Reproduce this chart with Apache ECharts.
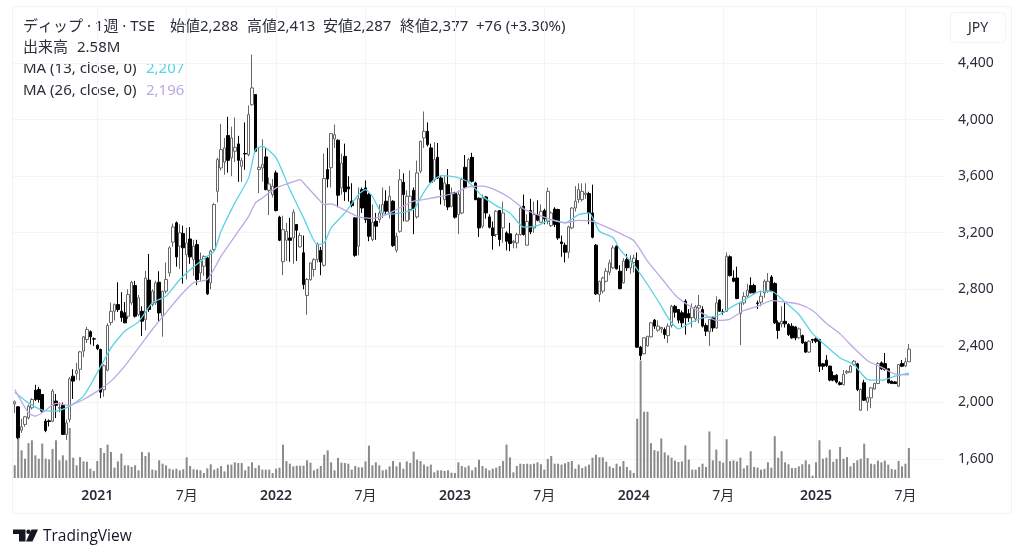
<!DOCTYPE html>
<html>
<head>
<meta charset="utf-8">
<title>ディップ 週足</title>
<script src="https://cdn.jsdelivr.net/npm/echarts@6/dist/echarts.min.js"></script>
<style>
  html, body { margin: 0; padding: 0; background: #fff; }
  #chart { width: 1024px; height: 558px; }
</style>
</head>
<body>
<div id="chart"></div>
<script>
var opens = [
  1990,1969,1804,1845,1892,1962,2087,2092,2056,1868,
  1870,1868,2010,1960,1980,1774,1880,2186,2205,2235,
  2363,2445,2500,2450,2405,2375,2090,2228,2565,2645,
  2692,2645,2634,2610,2704,2827,2622,2645,2586,2865,
  2692,2704,2850,2610,2787,2916,3133,3270,3105,3194,
  3045,3156,3010,3116,2916,2963,3022,2845,3081,3493,
  3658,3700,3887,3729,3776,3828,3670,3760,3752,4105,
  4177,3647,3658,3736,3500,3470,3623,3310,2995,3147,
  3163,3163,3258,3100,3058,2756,2869,2940,3010,3074,
  2970,3647,3660,3863,3854,3517,3740,3524,3423,3305,
  3105,3505,3517,3470,3152,3281,3293,3340,3423,3340,
  3423,3076,3210,3557,3283,3364,3500,3312,3635,3870,
  3917,3800,3575,3733,3587,3434,3540,3387,3482,3328,
  3340,3663,3564,3733,3552,3444,3246,3453,3312,3234,
  3187,3357,3234,3199,3192,3130,3128,3187,3387,3112,
  3357,3234,3328,3274,3357,3281,3250,3368,3364,3135,
  3112,3062,3234,3375,3434,3434,3470,3477,3340,3112,
  2763,2787,2857,2921,2952,3105,2928,2846,3010,2952,
  2990,3003,2391,2344,2400,2464,2582,2511,2520,2516,
  2473,2544,2680,2657,2634,2716,2628,2600,2591,2668,
  2657,2544,2500,2598,2527,2723,2640,2645,3030,2880,
  2880,2628,2704,2752,2827,2827,2704,2709,2775,2787,
  2887,2841,2563,2555,2574,2551,2539,2534,2457,2473,
  2426,2356,2445,2450,2445,2273,2299,2257,2190,2193,
  2139,2127,2210,2214,2268,2273,1945,2139,2002,2033,
  2096,2134,2280,2275,2238,2150,2145,2115,2275,2258,
  2288
];
var highs = [
  2015,1975,1885,1905,1985,2030,2125,2110,2060,1885,
  1880,2095,2060,2000,2000,1880,2180,2235,2280,2365,
  2470,2535,2510,2460,2410,2380,2270,2560,2706,2700,
  2850,2780,2710,2800,2860,2860,2760,2680,2930,3050,
  2800,2860,2928,2790,2990,3105,3265,3280,3260,3250,
  3234,3240,3150,3150,3060,3040,3030,3080,3410,3730,
  3970,3870,4020,3950,4015,3885,3730,3980,4100,4460,
  4180,3805,3860,3800,3590,3580,3640,3320,3320,3270,
  3305,3365,3260,3200,3180,2880,2990,3020,3130,3100,
  3760,3800,3905,3965,3860,3760,3830,3600,3550,3310,
  3520,3520,3570,3480,3400,3340,3400,3520,3500,3530,
  3430,3200,3650,3620,3500,3640,3520,3710,3850,4057,
  3980,3830,3840,3835,3600,3600,3650,3520,3490,3500,
  3590,3750,3730,3765,3560,3450,3470,3460,3330,3280,
  3360,3360,3420,3210,3270,3150,3200,3385,3470,3330,
  3440,3420,3430,3400,3370,3520,3350,3380,3370,3180,
  3130,3250,3380,3530,3550,3550,3550,3490,3540,3120,
  2860,2890,2950,3010,3110,3110,2970,3020,3050,3040,
  3045,3060,2400,2460,2470,2570,2590,2580,2535,2530,
  2560,2690,2690,2660,2650,2730,2660,2700,2690,2760,
  2680,2560,2590,2610,2750,2730,2660,3060,3040,2935,
  2960,2710,2780,2840,2885,2840,2720,2790,2870,2915,
  2900,2850,2580,2680,2705,2560,2560,2540,2530,2480,
  2430,2440,2450,2460,2450,2280,2335,2260,2220,2200,
  2150,2230,2230,2265,2300,2280,2100,2160,2040,2110,
  2140,2285,2290,2350,2240,2155,2150,2270,2300,2315,
  2413
];
var lows = [
  1925,1740,1785,1828,1880,1950,2010,2000,1930,1790,
  1830,1860,1890,1930,1770,1735,1860,2025,2160,2155,
  2320,2420,2410,2400,2370,2030,2040,2220,2545,2580,
  2640,2570,2560,2590,2690,2600,2610,2470,2510,2640,
  2680,2690,2570,2465,2770,2890,3100,2960,2945,2840,
  2870,2980,2895,2830,2860,2895,2760,2800,3070,3415,
  3640,3610,3625,3600,3700,3560,3560,3645,3740,4100,
  3770,3480,3560,3500,3325,3450,3350,3140,2900,3000,
  2995,2980,3000,3095,2800,2620,2860,2890,2990,2900,
  2960,3520,3520,3800,3380,3470,3425,3420,3380,3030,
  3040,3340,3270,3140,3140,3150,3270,3305,3330,3300,
  3100,3060,3200,3280,3280,3290,3190,3300,3620,3800,
  3810,3550,3560,3580,3400,3390,3360,3380,3300,3190,
  3330,3510,3550,3555,3430,3170,3230,3300,3230,3080,
  3170,3105,3130,3075,3070,3090,3090,3180,3180,3110,
  3190,3200,3280,3270,3260,3260,3240,3240,3150,3030,
  2990,3020,3225,3350,3410,3420,3440,3260,3160,2760,
  2710,2770,2850,2900,2945,2940,2800,2840,2930,2910,
  2920,2385,2300,2340,2395,2460,2520,2500,2490,2450,
  2420,2530,2600,2560,2530,2480,2570,2530,2570,2560,
  2530,2470,2400,2500,2520,2640,2620,2640,2890,2850,
  2730,2405,2690,2740,2770,2760,2660,2680,2740,2775,
  2780,2555,2450,2530,2530,2470,2450,2440,2450,2415,
  2350,2350,2420,2420,2215,2230,2250,2150,2150,2135,
  2120,2120,2200,2210,2260,2080,1940,2010,1940,1960,
  2090,2130,2230,2225,2135,2130,2130,2110,2250,2250,
  2287
];
var closes = [
  2005,1750,1828,1899,1974,2021,2021,2021,1939,1802,
  1865,2080,1980,1965,1774,1856,2167,2151,2225,2358,
  2464,2516,2464,2448,2380,2073,2260,2544,2645,2692,
  2657,2600,2563,2763,2850,2610,2740,2575,2880,2657,
  2786,2845,2633,2786,2870,3093,3241,3029,3200,3093,
  3128,3029,3105,2869,3010,3033,2768,3070,3399,3717,
  3788,3800,3712,3870,3804,3712,3710,3757,4035,4224,
  3776,3663,3682,3505,3545,3530,3357,3147,3222,3210,
  3147,3345,3218,3180,2834,2869,2987,3010,3116,2994,
  3583,3580,3900,3893,3465,3693,3490,3510,3392,3040,
  3441,3375,3293,3175,3274,3246,3340,3400,3352,3458,
  3109,3175,3575,3470,3458,3458,3371,3623,3847,3917,
  3823,3557,3717,3587,3505,3552,3382,3482,3310,3470,
  3576,3524,3717,3564,3434,3234,3446,3340,3239,3180,
  3352,3152,3340,3140,3124,3140,3187,3375,3187,3280,
  3206,3328,3288,3352,3298,3493,3340,3258,3163,3124,
  3062,3241,3375,3423,3505,3493,3480,3340,3168,2768,
  2857,2880,2928,2987,3093,2945,2805,3000,2952,3000,
  3020,2391,2332,2457,2468,2563,2540,2540,2530,2480,
  2540,2680,2638,2582,2563,2598,2598,2670,2676,2686,
  2540,2504,2586,2527,2704,2645,2640,3034,2897,2857,
  2735,2704,2750,2794,2775,2775,2700,2751,2857,2857,
  2787,2563,2509,2574,2556,2480,2457,2457,2520,2421,
  2356,2433,2440,2433,2256,2256,2261,2158,2158,2144,
  2127,2198,2220,2257,2292,2092,2092,2016,2033,2103,
  2134,2275,2238,2233,2139,2134,2134,2268,2256,2288,
  2377
];
// 出来高 (百万株)
var volumes = [
  1.09,3.39,2.38,1.66,3.0,3.24,1.95,1.66,2.96,1.66,
  1.6,2.5,3.24,1.52,1.95,1.52,4.3,1.75,1.09,1.8,
  1.43,1.4,0.8,0.6,1.46,2.58,2.15,2.87,2.24,0.89,
  1.43,2.1,1.09,1.09,0.95,1.09,0.66,2.24,1.89,2.2,
  0.72,0.66,1.52,1.23,1.09,0.8,0.72,0.8,0.66,0.75,
  1.78,1.03,0.75,0.72,0.66,0.43,0.83,1.18,0.72,0.83,
  1.03,0.57,1.15,1.15,1.35,1.29,1.29,0.66,1.0,1.35,
  0.86,1.09,0.72,0.72,0.72,0.43,0.8,0.89,2.87,1.46,
  1.23,1.0,1.06,1.06,1.06,1.52,1.32,0.66,0.8,1.03,
  2.0,2.38,1.35,0.66,1.72,1.32,1.29,1.23,0.72,1.03,
  0.92,0.92,1.43,2.78,1.09,1.35,1.09,0.66,0.72,1.0,
  1.46,1.0,1.35,0.8,1.43,1.29,2.27,1.58,1.46,1.15,
  1.0,1.15,0.49,0.66,0.66,0.6,0.66,0.46,0.43,1.35,
  1.03,0.92,1.06,0.66,0.92,1.58,1.03,0.83,0.66,0.8,
  0.89,1.03,1.46,2.87,1.78,0.49,1.03,1.23,1.2,1.23,
  1.18,1.23,1.35,1.18,0.72,1.64,1.89,1.23,1.23,1.15,
  1.26,1.38,1.46,0.8,1.15,0.86,1.0,1.15,1.75,2.0,
  1.78,1.78,1.4,1.0,0.86,1.23,1.0,1.46,0.95,0.66,
  0.43,5.1,10.1,5.7,5.7,3.0,2.4,2.3,3.4,2.2,
  1.95,1.75,1.5,1.38,1.43,2.8,1.58,0.72,0.72,0.95,
  1.23,0.95,4.0,1.52,2.44,1.46,1.32,3.33,1.46,1.52,
  1.43,1.75,0.83,1.09,2.3,0.95,0.89,0.72,0.78,1.35,
  0.89,3.6,1.75,2.3,1.35,1.18,0.86,0.86,1.0,1.18,
  1.52,1.18,0.2,1.35,3.24,1.66,1.75,2.44,1.4,1.64,
  2.67,1.66,1.8,1.0,1.29,1.52,1.66,2.95,1.72,1.23,
  1.18,1.49,1.35,1.49,1.15,0.78,0.72,1.46,1.0,1.23,
  2.58
];
// MA は図から読んだ点だけ (週の番号と値)
var ma13Weeks = [0,4,8,12,16,20,24,28,32,36,40,44,48,52,56,58,60,64,68,70,72,76,80,84,88,90,92,96,100,102,104,106,108,112,116,118,120,122,124,128,130,132,136,140,144,148,152,156,160,164,167,170,174,176,180,184,188,190,193,196,200,204,208,212,216,220,224,228,232,236,240,244,248,252,256,260];
var ma13 = [2073,1997,1946,1939,1974,2045,2210,2386,2504,2570,2704,2751,2869,2958,3034,3069,3210,3411,3588,3788,3811,3729,3505,3305,3116,3128,3234,3340,3470,3505,3458,3364,3328,3340,3364,3446,3524,3576,3604,3595,3580,3557,3458,3392,3340,3239,3250,3293,3270,3328,3340,3211,3164,3081,2975,2834,2681,2598,2520,2558,2598,2610,2669,2723,2780,2787,2709,2622,2487,2398,2315,2268,2162,2158,2186,2207];
var ma26Weeks = [0,4,6,8,12,16,20,24,28,32,36,40,44,48,52,56,60,64,68,70,72,76,80,83,84,88,90,92,96,100,104,108,112,116,120,124,128,132,136,140,144,148,152,156,160,164,168,172,176,180,184,188,192,196,200,204,208,212,216,220,224,228,232,236,240,244,248,252,256,260];
var ma26 = [2092,1927,1903,1927,1993,1981,2021,2080,2151,2257,2386,2516,2634,2751,2846,2869,3034,3175,3316,3411,3446,3517,3552,3576,3552,3446,3399,3404,3359,3312,3302,3328,3376,3423,3439,3458,3481,3524,3529,3500,3446,3368,3328,3293,3270,3288,3281,3241,3195,3145,3000,2880,2760,2685,2630,2580,2590,2650,2680,2720,2710,2695,2650,2560,2485,2385,2295,2250,2200,2196];
var tickValues = [1600,2000,2400,2800,3200,3600,4000,4400];
var tickDates = ['2021-01-04','2021-07-05','2022-01-03','2022-07-04','2023-01-02','2023-07-03','2024-01-01','2024-07-01','2025-01-06','2025-07-07'];
var tickLabels = ['2021','7月','2022','7月','2023','7月','2024','7月','2025','7月'];

// 週足の日付、右側の余白ぶん 10 週多い
var weeks = [];
for (var w = 0; w < 271; w++) {
  weeks.push(new Date(Date.UTC(2020, 6, 20 + w * 7)).toISOString().slice(0, 10));
}

var candles = opens.map(function (o, i) { return [o, closes[i], lows[i], highs[i]]; });
function pairs(idx, vals) { return idx.map(function (d, i) { return [d, vals[i]]; }); }

var FONT = '"Noto Sans", "Noto Sans CJK JP", sans-serif';
var INK = '#2a2e39';
function label(x, y, text, fill) {
  return { type: 'text', x: x, y: y, style: { text: text, fill: fill || INK, font: '15px ' + FONT, verticalAlign: 'middle' } };
}

var chart = echarts.init(document.getElementById('chart'), null, { renderer: 'canvas' });
chart.setOption({
  animation: false,
  backgroundColor: '#fff',
  grid: { left: 13, right: 79, top: 7, bottom: 80 },
  xAxis: {
    type: 'category',
    data: weeks,
    boundaryGap: true,
    axisLine: { show: false },
    axisTick: { show: false, alignWithLabel: true },
    axisLabel: {
      margin: 11,
      hideOverlap: false,
      interval: function (i, v) { return tickDates.indexOf(v) >= 0; },
      formatter: function (v) {
        var t = tickLabels[tickDates.indexOf(v)];
        return t.length === 4 ? '{y|' + t + '}' : '{m|' + t + '}';
      },
      rich: {
        y: { fontFamily: FONT, fontSize: 14, fontWeight: 600, color: INK },
        m: { fontFamily: FONT, fontSize: 14, color: INK }
      }
    },
    splitLine: {
      show: true,
      alignWithLabel: true,
      interval: function (i, v) { return tickDates.indexOf(v) >= 0; },
      lineStyle: { color: '#f3f4f7', width: 1 }
    }
  },
  yAxis: [
    {
      type: 'value',
      position: 'right',
      min: 1466,
      max: 4796,
      axisLine: { show: false },
      axisTick: { show: false, customValues: tickValues },
      axisLabel: {
        customValues: tickValues,
        margin: 13,
        padding: [2, 0, 0, 0],
        color: INK,
        fontFamily: FONT,
        fontSize: 14,
        formatter: function (v) { return v.toLocaleString('en-US'); }
      },
      splitLine: { show: true, lineStyle: { color: '#f3f4f7', width: 1 } }
    },
    { type: 'value', min: 0, max: 40.5, show: false, splitLine: { show: false } }
  ],
  series: [
    {
      type: 'bar', name: '出来高', yAxisIndex: 1, data: volumes, barWidth: 2,
      itemStyle: { color: '#8a8a8a' }, z: 1
    },
    {
      type: 'candlestick', name: 'ディップ', data: candles, barWidth: 3, clip: false,
      itemStyle: { color: '#ffffff', color0: '#000000', borderColor: '#666666', borderColor0: '#000000', borderWidth: 1 },
      z: 2
    },
    {
      type: 'line', name: 'MA13', data: pairs(ma13Weeks, ma13), showSymbol: false, smooth: 0.2,
      lineStyle: { color: '#5ad3e3', width: 1.3 }, z: 3
    },
    {
      type: 'line', name: 'MA26', data: pairs(ma26Weeks, ma26), showSymbol: false, smooth: 0.2,
      lineStyle: { color: '#bda8e2', width: 1.3 }, z: 3
    }
  ],
  graphic: [
    // 枠
    { type: 'rect', shape: { x: 12.5, y: 6.5, width: 999, height: 507 }, style: { fill: 'none', stroke: '#f0f3fa', lineWidth: 1 }, z: 0 },
    // 凡例
    label(23, 27, 'ディップ · 1週 · TSE'),
    label(170, 27, '始値2,288'),
    label(247, 27, '高値2,413'),
    label(323, 27, '安値2,287'),
    label(400, 27, '終値2,377'),
    label(476, 27, '+76 (+3.30%)'),
    label(23, 48, '出来高'),
    label(77, 48, '2.58M'),
    label(23, 69, 'MA (13, close, 0)'),
    label(146, 69, '2,207', '#5ad3e3'),
    label(23, 91, 'MA (26, close, 0)'),
    label(146, 91, '2,196', '#bda8e2'),
    // JPY ボタン
    { type: 'rect', shape: { x: 950.5, y: 12.5, width: 55, height: 30, r: 4 }, style: { fill: '#fff', stroke: '#f0f3fa', lineWidth: 1 } },
    { type: 'text', x: 978, y: 28, style: { text: 'JPY', fill: INK, font: '14px ' + FONT, align: 'center', verticalAlign: 'middle' } },
    // ロゴ
    { type: 'polygon', shape: { points: [[13, 529.5], [25.5, 529.5], [25.5, 541.5], [19, 541.5], [19, 534], [13, 534]] }, style: { fill: '#131722' } },
    { type: 'circle', shape: { cx: 28.5, cy: 531.7, r: 2.2 }, style: { fill: '#131722' } },
    { type: 'polygon', shape: { points: [[31.5, 529.5], [38, 529.5], [32.5, 541.5], [26, 541.5]] }, style: { fill: '#131722' } },
    { type: 'text', x: 43, y: 537, style: { text: 'TradingView', fill: '#131722', font: '15.5px "Open Sans", sans-serif', verticalAlign: 'middle' } }
  ]
});
</script>
</body>
</html>
